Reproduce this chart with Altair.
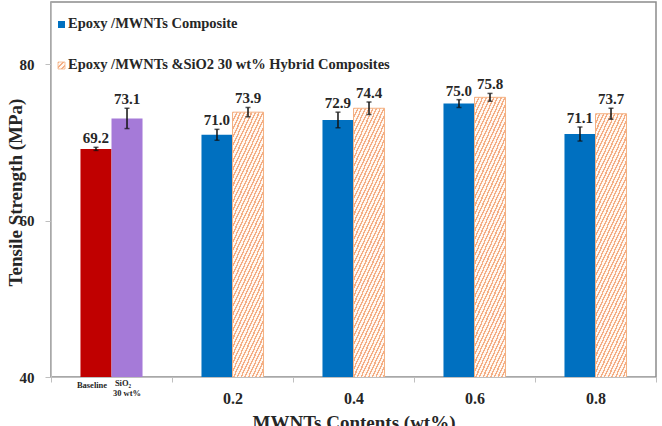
import altair as alt
import pandas as pd

groups = ["Baseline", "0.2", "0.4", "0.6", "0.8"]
s1_vals = [69.2, 71.0, 72.9, 75.0, 71.1]
s1_err = [0.2, 0.7, 1.0, 0.5, 0.9]
s2_vals = [73.1, 73.9, 74.4, 75.8, 73.7]
s2_err = [1.3, 0.6, 0.8, 0.5, 0.7]
series_names = ["Epoxy /MWNTs Composite", "Epoxy /MWNTs &SiO2 30 wt% Hybrid Composites"]
baseline_labels = ["Baseline", "SiO₂", "30 wt%"]

rows = []
for g, v, e in zip(groups, s1_vals, s1_err):
    rows.append(dict(group=g, series="s1", value=v, lo=v - e, hi=v + e,
                     kind="red" if g == "Baseline" else "blue"))
for g, v, e in zip(groups, s2_vals, s2_err):
    rows.append(dict(group=g, series="s2", value=v, lo=v - e, hi=v + e,
                     kind="purple" if g == "Baseline" else "orange"))
df = pd.DataFrame(rows)

FONT = "Liberation Serif"
TXT = "#262626"


def stripes(x2, y2, n, frac=0.4, line="#F4AE85", bg="#FFF8F2"):
    stops = []
    for k in range(n):
        a = k / n
        b = (k + frac) / n
        stops += [alt.GradientStop(offset=a, color=bg), alt.GradientStop(offset=a, color=line),
                  alt.GradientStop(offset=b, color=line), alt.GradientStop(offset=b, color=bg)]
    stops.append(alt.GradientStop(offset=1, color=bg))
    return alt.LinearGradient(gradient="linear", x1=0, y1=0, x2=x2, y2=y2, stops=stops)


bar_hatch = stripes(0.128, 1.101, 80)
swatch_hatch = stripes(1, 1, 3)

X = alt.X("group:N", sort=groups, scale=alt.Scale(paddingInner=0, paddingOuter=0),
          axis=alt.Axis(title="MWNTs Contents (wt%)", labelAngle=0, tickBand="extent",
                        labelExpr="datum.value == 'Baseline' ? '' : datum.value",
                        labelFont=FONT, labelFontWeight="bold", labelFontSize=16, labelColor=TXT,
                        labelPadding=8, tickSize=5, tickColor="#BFBFBF", domainColor="#BFBFBF",
                        titleFont=FONT, titleFontWeight="bold", titleFontSize=19, titleColor=TXT,
                        titleY=45, titleBaseline="middle"))
XO = alt.XOffset("series:N", scale=alt.Scale(domain=["s1", "s2"], paddingInner=0, paddingOuter=0.95))
ysc = alt.Scale(domain=[40, 88], nice=False, zero=False)
Y = alt.Y("value:Q", scale=ysc,
          axis=alt.Axis(title="Tensile Strength (MPa)", values=[40, 60, 80], grid=False,
                        labelFont=FONT, labelFontWeight="bold", labelFontSize=15, labelColor=TXT,
                        labelPadding=11, tickSize=6, tickColor="#BFBFBF", domainColor="#BFBFBF",
                        titleFont=FONT, titleFontWeight="bold", titleFontSize=19, titleColor=TXT,
                        titleX=-36, titleY=190, titleAngle=-90, titleBaseline="middle",
                        titleAlign="center"))

base = alt.Chart(df).encode(x=X, xOffset=XO)

red = base.transform_filter("datum.kind == 'red'").mark_bar(fill="#C00000", clip=True).encode(y=Y)
purple = base.transform_filter("datum.kind == 'purple'").mark_bar(
    fill="#A57AD8", clip=True).encode(y=Y)
blue = base.transform_filter("datum.kind == 'blue'").mark_bar(fill="#0070C0", clip=True).encode(y=Y)
orange = base.transform_filter("datum.kind == 'orange'").mark_bar(
    fill=bar_hatch, stroke="#F4B183", strokeWidth=1, clip=True).encode(y=Y)

err = base.mark_rule(color="#111", strokeWidth=1.5).encode(
    y=alt.Y("lo:Q", scale=ysc), y2="hi:Q")
cap_lo = base.mark_tick(color="#111", size=5, thickness=1.5).encode(y=alt.Y("lo:Q", scale=ysc))
cap_hi = base.mark_tick(color="#111", size=5, thickness=1.5).encode(y=alt.Y("hi:Q", scale=ysc))

labels = base.mark_text(font=FONT, fontWeight="bold", fontSize=15, color=TXT,
                        baseline="alphabetic", dy=-4).encode(
    y=alt.Y("hi:Q", scale=ysc), text=alt.Text("value:Q", format=".1f"))

bl = pd.DataFrame({"group": ["Baseline", "Baseline", "Baseline"], "series": ["s1", "s2", "s2"],
                   "label": baseline_labels})
bl_base = alt.Chart(bl).encode(x=alt.X("group:N", sort=groups), xOffset=alt.XOffset("series:N"),
                               text="label:N")
bl_style = dict(font=FONT, fontWeight="bold", fontSize=8.5, color=TXT, baseline="middle")
bl1 = bl_base.transform_filter("datum.label == 'Baseline'").mark_text(**bl_style, dx=-4).encode(
    y=alt.value(383))
bl2 = bl_base.transform_filter("datum.label == 'SiO₂'").mark_text(**bl_style, dx=-4).encode(
    y=alt.value(381))
bl3 = bl_base.transform_filter("datum.label == '30 wt%'").mark_text(**bl_style).encode(
    y=alt.value(391))

leg = pd.DataFrame({"name": series_names})
leg_text_style = dict(font=FONT, fontWeight="bold", fontSize=14.5, color=TXT,
                      baseline="middle", align="left")
leg1_sw = alt.Chart(leg).transform_filter(alt.datum.name == series_names[0]).mark_rect(
    fill="#0070C0").encode(x=alt.value(7), x2=alt.value(14), y=alt.value(19), y2=alt.value(26))
leg1_tx = alt.Chart(leg).transform_filter(alt.datum.name == series_names[0]).mark_text(
    **leg_text_style).encode(x=alt.value(17), y=alt.value(22), text="name:N")
leg2_sw = alt.Chart(leg).transform_filter(alt.datum.name == series_names[1]).mark_rect(
    fill=swatch_hatch, stroke="#F4B183", strokeWidth=0.8).encode(
    x=alt.value(7), x2=alt.value(14), y=alt.value(60), y2=alt.value(67))
leg2_tx = alt.Chart(leg).transform_filter(alt.datum.name == series_names[1]).mark_text(
    **leg_text_style).encode(x=alt.value(17), y=alt.value(63), text="name:N")

chart = alt.layer(red, purple, blue, orange, err, cap_lo, cap_hi, labels, bl1, bl2, bl3,
                  leg1_sw, leg1_tx, leg2_sw, leg2_tx).properties(
    width=605, height=375, autosize=alt.AutoSizeParams(type="none"),
    padding={"left": 51, "top": 2, "right": 6, "bottom": 49},
    background="white"
).configure_view(stroke="#8C8C8C", strokeWidth=1.5)

chart.save("out.html", embed_options={"renderer": "svg", "actions": False})
